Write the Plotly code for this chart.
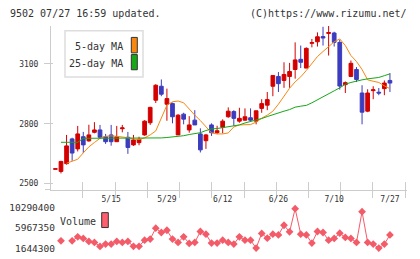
import plotly.graph_objects as go

W, H = 420, 259

# ---------------- data ----------------
day_index = list(range(61))
opens = [2572, 2561, 2600, 2724, 2674, 2735, 2714, 2757, 2769, 2735,
         2744, 2710, 2775, 2732, 2694, 2705, 2744, 2805, 2918, 2988,
         2898, 2901, 2744, 2848, 2769, 2818, 2749, 2715, 2794, 2755,
         2782, 2835, 2861, 2813, 2818, 2830, 2813, 2877, 2893, 2988,
         3037, 3017, 3037, 3072, 3123, 3079, 3203, 3211, 3237, 3253,
         3255, 3208, 2996, 3037, 3072, 2954, 2863, 2966, 2958, 2976,
         3017]
highs = [2574, 2614, 2744, 2730, 2789, 2759, 2795, 2808, 2794, 2749,
         2794, 2789, 2794, 2759, 2744, 2735, 2818, 2885, 2998, 3022,
         2976, 2906, 2848, 2855, 2838, 2868, 2777, 2749, 2802, 2790,
         2822, 2882, 2868, 2880, 2877, 2877, 2865, 2923, 2959, 3042,
         3059, 3108, 3105, 3208, 3192, 3183, 3225, 3258, 3286, 3290,
         3261, 3221, 3012, 3117, 3084, 2993, 2973, 2988, 2979, 3017,
         3054]
lows = [2572, 2551, 2595, 2614, 2661, 2653, 2710, 2752, 2724, 2699,
        2690, 2710, 2757, 2649, 2689, 2692, 2740, 2794, 2904, 2938,
        2815, 2802, 2744, 2797, 2755, 2794, 2656, 2674, 2739, 2748,
        2752, 2830, 2789, 2805, 2815, 2813, 2797, 2855, 2868, 2938,
        2959, 2980, 2980, 3026, 3079, 3079, 3183, 3187, 3192, 3142,
        3187, 2971, 2954, 3034, 3009, 2797, 2858, 2923, 2943, 2943,
        2959]
closes = [2574, 2611, 2689, 2653, 2749, 2694, 2744, 2769, 2732, 2710,
          2710, 2735, 2779, 2681, 2719, 2722, 2813, 2882, 2993, 2948,
          2926, 2835, 2843, 2823, 2794, 2794, 2669, 2744, 2755, 2765,
          2813, 2863, 2827, 2827, 2835, 2818, 2865, 2901, 2921, 3042,
          3001, 3047, 3062, 3120, 3108, 3178, 3207, 3236, 3230, 3257,
          3208, 2989, 3006, 3103, 3022, 2858, 2954, 2970, 2954, 3004,
          3004]
ma5 = [None, None, 2602, 2614, 2622, 2654, 2684, 2706, 2727, 2737,
       2739, 2737, 2735, 2730, 2724, 2721, 2729, 2744, 2764, 2831,
       2893, 2910, 2914, 2905, 2873, 2843, 2816, 2786, 2754, 2749,
       2749, 2754, 2784, 2794, 2794, 2796, 2808, 2828, 2843, 2863,
       2898, 2937, 2978, 3010, 3035, 3067, 3102, 3137, 3162, 3187,
       3211, 3225, 3192, 3142, 3112, 3072, 3020, 3013, 3007, 2990,
       2976]
ma25 = [None, 2707, 2707, 2707, 2707, 2727, 2727, 2727, 2727, 2727,
        2727, 2727, 2727, 2727, 2727, 2727, 2727, 2727, 2727, 2729,
        2731, 2733, 2738, 2740, 2746, 2749, 2755, 2766, 2774, 2776,
        2780, 2784, 2791, 2794, 2804, 2811, 2821, 2826, 2836, 2846,
        2856, 2863, 2871, 2883, 2888, 2892, 2905, 2919, 2933, 2948,
        2965, 2980, 2998, 3007, 3015, 3020, 3025, 3028, 3032, 3041,
        3050]
volume = [None, 3247000, None, 3247000, 4090000, 3753000, 3120000, 2910000, 2066000, 2550000,
          2550000, 3120000, 2910000, 3120000, 2070000, 2070000, 3390000, 3610000, 5930000, 5020000,
          5500000, 3610000, 2910000, 4090000, 2700000, 2910000, 5230000, 4660000, 2760000, 2760000,
          3390000, 2910000, 2550000, 4090000, 3390000, 3390000, 1710000, 4810000, 3820000, 4660000,
          4510000, 6560000, 5150000, 10080000, 4660000, 4510000, 2760000, 5230000, 5020000, 3390000,
          3750000, 4870000, 3960000, 3750000, 2910000, 9450000, 2910000, 2550000, 1710000, 2550000,
          4510000]
date_tick_index = [10, 20, 30, 40, 50, 60]
date_tick_labels = ["5/15", "5/29", "6/12", "6/26", "7/10", "7/27"]
price_ticks = [2500, 2800, 3100]
volume_ticks = [1644300, 5967350, 10290400]

# ---------------- styling ----------------
FONT = "DejaVu Sans Mono"
TXT = "#333333"
AX = "#cccccc"
RED = "#d40000"
BLUE = "#3c3cbf"
ORANGE = "#f7870f"
GREEN = "#17a817"
VOLC = "#f45b69"


def px(x):
    return x / W


def py(y):
    return 1 - y / H


XR = [-0.79, 63.06]
PR = [2470.15, 3291.0]
VR = [653164, 11197184]
XDOM = [px(51), px(407)]

fig = go.Figure()

fig.add_trace(go.Candlestick(
    x=day_index, open=opens, high=highs, low=lows, close=closes,
    increasing=dict(line=dict(color=RED, width=1), fillcolor=RED),
    decreasing=dict(line=dict(color=BLUE, width=1), fillcolor=BLUE),
    whiskerwidth=0, showlegend=False, hoverinfo="skip",
    xaxis="x", yaxis="y"))
fig.add_trace(go.Scatter(x=day_index, y=ma5, mode="lines",
                         line=dict(color=ORANGE, width=1), showlegend=False,
                         hoverinfo="skip", xaxis="x", yaxis="y"))
fig.add_trace(go.Scatter(x=day_index, y=ma25, mode="lines",
                         line=dict(color=GREEN, width=1), showlegend=False,
                         hoverinfo="skip", xaxis="x", yaxis="y"))
fig.add_trace(go.Scatter(x=day_index, y=volume, mode="lines+markers",
                         line=dict(color=VOLC, width=1),
                         marker=dict(symbol="diamond", size=6, color=VOLC),
                         showlegend=False, hoverinfo="skip",
                         xaxis="x2", yaxis="y2"))
# empty traces so overlay axes get drawn
for xa, ya in [("x3", "y"), ("x4", "y"), ("x", "y3")]:
    fig.add_trace(go.Scatter(x=[], y=[], xaxis=xa, yaxis=ya,
                             showlegend=False, hoverinfo="skip"))

fig.update_layout(
    width=W, height=H, autosize=False,
    margin=dict(l=0, r=0, t=0, b=0),
    paper_bgcolor="white", plot_bgcolor="white",
    showlegend=False, boxgap=0.05,
    font=dict(family=FONT, color=TXT),
    xaxis=dict(domain=XDOM, anchor="y", range=XR, tick0=-0.84, dtick=5.78,
               ticks="outside", ticklen=7, tickcolor=AX, tickwidth=1,
               showticklabels=False, showline=True, linecolor=AX, linewidth=1,
               showgrid=False, zeroline=False, rangeslider=dict(visible=False),
               fixedrange=True),
    xaxis3=dict(overlaying="x", anchor="y", range=XR, tick0=-0.84, dtick=5.78,
                ticks="inside", ticklen=8, tickcolor=AX, tickwidth=1,
                showticklabels=False, showline=False, showgrid=False,
                zeroline=False),
    xaxis4=dict(overlaying="x", anchor="y", range=XR, tickmode="array",
                tickvals=date_tick_index, ticktext=date_tick_labels,
                ticks="", showline=False, showgrid=False, zeroline=False,
                ticklabelstandoff=3,
                tickfont=dict(family=FONT, size=8, color=TXT)),
    yaxis=dict(domain=[py(190), py(25)], anchor="x", range=PR,
               tickmode="array", tickvals=price_ticks,
               ticks="outside", ticklen=6, tickcolor=AX, tickwidth=1,
               showline=True, linecolor=AX, linewidth=1, showgrid=False,
               zeroline=False, ticklabelstandoff=4,
               tickfont=dict(family=FONT, size=8, color=TXT)),
    yaxis3=dict(overlaying="y", anchor="x", range=PR, tickmode="array",
                tickvals=price_ticks, ticks="inside", ticklen=2,
                tickcolor=AX, showticklabels=False, showline=False,
                showgrid=False, zeroline=False),
    xaxis2=dict(domain=XDOM, anchor="y2", range=XR, visible=False),
    yaxis2=dict(domain=[py(254), py(204)], anchor="free", position=px(55),
                range=VR, tickmode="array", tickvals=volume_ticks,
                ticktext=[str(v) for v in volume_ticks], ticks="",
                showline=False, showgrid=False, zeroline=False,
                tickfont=dict(family=FONT, size=9.5, color=TXT)),
)

shapes = [
    # x axis line extension to the left
    dict(type="line", xref="paper", yref="paper", x0=px(45), x1=px(51),
         y0=py(190), y1=py(190), line=dict(color=AX, width=1)),
    # MA legend box
    dict(type="rect", xref="paper", yref="paper", x0=px(65), x1=px(143),
         y0=py(76.7), y1=py(30), line=dict(color="#dddddd", width=1.5),
         fillcolor="white", layer="above"),
    dict(type="rect", xref="paper", yref="paper", x0=px(131.3), x1=px(137.3),
         y0=py(52.3), y1=py(36.7), line=dict(color="#333333", width=1),
         fillcolor=ORANGE, layer="above"),
    dict(type="rect", xref="paper", yref="paper", x0=px(131.3), x1=px(137.3),
         y0=py(69.3), y1=py(54), line=dict(color="#333333", width=1),
         fillcolor=GREEN, layer="above"),
    # volume legend swatch
    dict(type="rect", xref="paper", yref="paper", x0=px(101.7), x1=px(108.3),
         y0=py(228.3), y1=py(213.3), line=dict(color="#333333", width=1),
         fillcolor="#ff5f6d", layer="above"),
]
fig.update_layout(shapes=shapes)


def ann(text, x, y, xanchor, size=10):
    return dict(text=text, xref="paper", yref="paper", x=px(x), y=py(y),
                xanchor=xanchor, yanchor="middle", showarrow=False,
                font=dict(family=FONT, size=size, color=TXT))


fig.update_layout(annotations=[
    ann("9502 07/27 16:59 updated.", 8, 13, "left"),
    ann("(C)https://www.rizumu.net/", 409, 13, "right"),
    ann("5-day MA", 125, 46, "right"),
    ann("25-day MA", 125, 63.3, "right"),
    ann("Volume", 58, 222.3, "left"),
])

fig.write_html("out.html")
